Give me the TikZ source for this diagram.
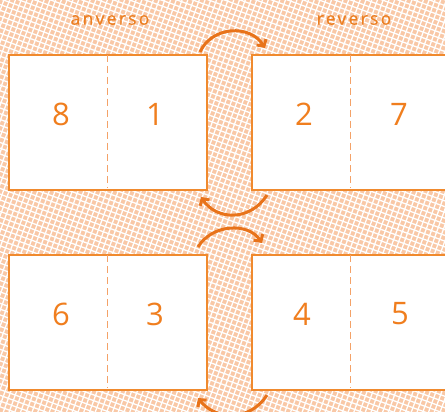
\documentclass[tikz,border=0pt]{standalone}
\usepackage{fontspec}
\setmainfont{Open Sans}
\usetikzlibrary{arrows.meta}
\definecolor{bgor}{HTML}{F9C8A6}
\definecolor{edge}{HTML}{F08A2E}
\definecolor{arr}{HTML}{E8731A}
\definecolor{num}{HTML}{F07E1E}
\definecolor{lbl}{HTML}{EC7F22}
\definecolor{dashc}{HTML}{F4A268}
\tikzset{
  page/.style={draw=edge, line width=2pt, fill=white, minimum width=198pt, minimum height=135pt, inner sep=0pt, anchor=north west},
  divider/.style={draw=dashc, line width=1pt, dash pattern=on 7pt off 4pt},
  numtxt/.style={text=num, font=\fontsize{31}{31}\selectfont},
  lbltxt/.style={text=lbl, font=\fontsize{17.5}{17.5}\selectfont\addfontfeatures{LetterSpace=13,FakeBold=0.6}},
  flip/.style={draw=arr, line width=3pt, -{Straight Barb[length=5pt,width=11pt,line width=3pt]}}
}
\begin{document}
\begin{tikzpicture}[x=1pt,y=-1pt]
\useasboundingbox (0,0) rectangle (445,412);
\clip (0,0) rectangle (445,412);
\fill[bgor] (0,0) rectangle (445,412);
\begin{scope}[shift={(222,206)}, rotate=-20]
  \foreach \i in {-60,...,60} {
    \draw[white, line width=1.3pt] (\i*5.4,-330) -- (\i*5.4,330);
    \draw[white, line width=1.3pt] (-330,\i*5.4) -- (330,\i*5.4);
  }
\end{scope}
% labels
\node[lbltxt] (lanv) at (110,20) {anverso};
\node[lbltxt] (lrev) at (354,20) {reverso};
% boxes
\node[page] (a1) at (8,54) {};
\node[page] (r1) at (251,54) {};
\node[page] (a2) at (8,254) {};
\node[page] (r2) at (251,254) {};
% dividers
\draw[divider] (107,55) -- (107,188);
\draw[divider] (350,55) -- (350,188);
\draw[divider] (107,255) -- (107,388);
\draw[divider] (350,255) -- (350,388);
% numbers
\node[numtxt] (n8) at (61,114) {8};
\node[numtxt] (n1) at (155,114) {1};
\node[numtxt] (n2) at (304,114) {2};
\node[numtxt] (n7) at (399,114) {7};
\node[numtxt] (n6) at (61,314) {6};
\node[numtxt] (n3) at (155,314) {3};
\node[numtxt] (n4) at (302,314) {4};
\node[numtxt] (n5) at (400,314) {5};
% arrows
\coordinate (t1s) at (200,52);
\coordinate (t1e) at (265,48);
\coordinate (m1s) at (267,195);
\coordinate (m1e) at (201,197);
\coordinate (m2s) at (198,247);
\coordinate (m2e) at (262,243);
\coordinate (b1s) at (267,395);
\coordinate (b1e) at (198,398);
\draw[flip] (t1s) .. controls (212,26) and (250,24) .. (t1e);
\draw[flip] (m1s) .. controls (250,222) and (216,220) .. (m1e);
\draw[flip] (m2s) .. controls (212,224) and (248,222) .. (m2e);
\draw[flip] (b1s) .. controls (250,422) and (215,420) .. (b1e);
\end{tikzpicture}
\end{document}
